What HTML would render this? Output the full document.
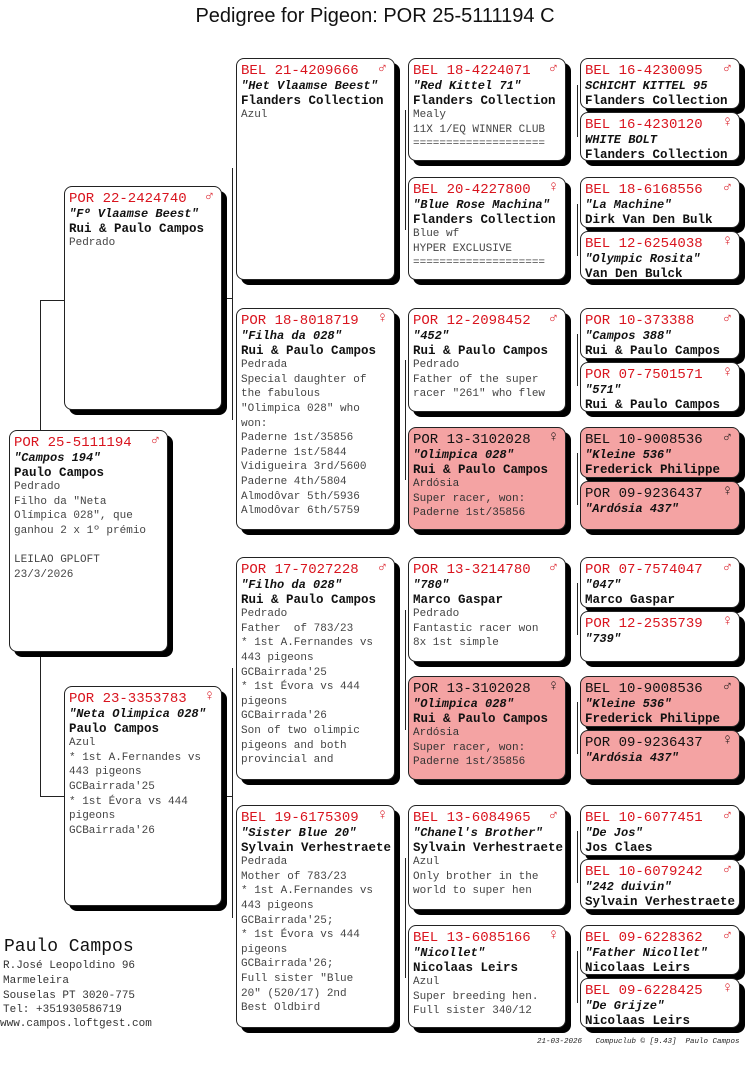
<!DOCTYPE html>
<html><head><meta charset="utf-8">
<style>
body{margin:0;width:750px;height:1077px;background:#fff;position:relative;overflow:hidden;font-family:"Liberation Mono","DejaVu Sans Mono",monospace;color:#111}
.t{position:absolute;left:0;width:750px;top:5px;text-align:center;font-family:"Liberation Sans",sans-serif;font-size:20px}
.b{position:absolute;border:1.5px solid #222;border-radius:8px;background:#fff;box-shadow:5px 5px 0 #000;padding:5px 4px 3px 4px;box-sizing:border-box;overflow:hidden;line-height:14.6px}
.p{background:#f4a3a3}
.id{color:#d9141e;font-size:14px;line-height:15px;white-space:nowrap}
.p .id{color:#111}
.g{position:absolute;right:7px;top:3px;color:#d9141e;font-size:15px;font-weight:bold}
.p .g{color:#111}
.n{font-weight:bold;font-style:italic;font-size:12px;white-space:nowrap}
.o{font-weight:bold;font-size:12.5px;white-space:nowrap}
.x{font-size:11px;color:#444;white-space:pre}
.p .x{color:#333}
.l{position:absolute;background:#222}
</style></head><body>
<div class="t">Pedigree for Pigeon: POR 25-5111194 C</div>

<div class="l" style="left:40px;top:300px;width:1px;height:496px"></div>
<div class="l" style="left:40px;top:300px;width:24px;height:1px"></div>
<div class="l" style="left:40px;top:796px;width:24px;height:1px"></div>
<div class="l" style="left:232px;top:168px;width:1px;height:252px"></div>
<div class="l" style="left:222px;top:298px;width:10px;height:1px"></div>
<div class="l" style="left:232px;top:668px;width:1px;height:250px"></div>
<div class="l" style="left:222px;top:796px;width:10px;height:1px"></div>
<div class="l" style="left:405px;top:110px;width:1px;height:120px"></div>
<div class="l" style="left:405px;top:360px;width:1px;height:120px"></div>
<div class="l" style="left:405px;top:610px;width:1px;height:120px"></div>
<div class="l" style="left:405px;top:858px;width:1px;height:120px"></div>
<div class="l" style="left:577px;top:85px;width:1px;height:52px"></div>
<div class="l" style="left:577px;top:204px;width:1px;height:52px"></div>
<div class="l" style="left:577px;top:334px;width:1px;height:52px"></div>
<div class="l" style="left:577px;top:453px;width:1px;height:52px"></div>
<div class="l" style="left:577px;top:583px;width:1px;height:52px"></div>
<div class="l" style="left:577px;top:702px;width:1px;height:52px"></div>
<div class="l" style="left:577px;top:831px;width:1px;height:52px"></div>
<div class="l" style="left:577px;top:951px;width:1px;height:52px"></div>

<div class="b" style="left:9px;top:430px;width:159px;height:222px"><div class="id">POR 25-5111194</div><span class="g">♂</span><div class="n">"Campos 194"</div><div class="o">Paulo Campos</div><div class="x">Pedrado
Filho da "Neta
Olímpica 028", que
ganhou 2 x 1º prémio

LEILAO GPLOFT
23/3/2026</div></div>

<div class="b" style="left:64px;top:186px;width:158px;height:224px"><div class="id">POR 22-2424740</div><span class="g">♂</span><div class="n">"Fº Vlaamse Beest"</div><div class="o">Rui &amp; Paulo Campos</div><div class="x">Pedrado</div></div>
<div class="b" style="left:64px;top:686px;width:158px;height:220px"><div class="id">POR 23-3353783</div><span class="g">♀</span><div class="n">"Neta Olimpica 028"</div><div class="o">Paulo Campos</div><div class="x">Azul
* 1st A.Fernandes vs
443 pigeons
GCBairrada'25
* 1st Évora vs 444
pigeons
GCBairrada'26</div></div>

<div class="b" style="left:236px;top:58px;width:159px;height:222px"><div class="id">BEL 21-4209666</div><span class="g">♂</span><div class="n">"Het Vlaamse Beest"</div><div class="o">Flanders Collection</div><div class="x">Azul</div></div>
<div class="b" style="left:236px;top:308px;width:159px;height:222px"><div class="id">POR 18-8018719</div><span class="g">♀</span><div class="n">"Filha da 028"</div><div class="o">Rui &amp; Paulo Campos</div><div class="x">Pedrada
Special daughter of
the fabulous
"Olimpica 028" who
won:
Paderne 1st/35856
Paderne 1st/5844
Vidigueira 3rd/5600
Paderne 4th/5804
Almodôvar 5th/5936
Almodôvar 6th/5759</div></div>
<div class="b" style="left:236px;top:557px;width:159px;height:223px"><div class="id">POR 17-7027228</div><span class="g">♂</span><div class="n">"Filho da 028"</div><div class="o">Rui &amp; Paulo Campos</div><div class="x">Pedrado
Father  of 783/23
* 1st A.Fernandes vs
443 pigeons
GCBairrada'25
* 1st Évora vs 444
pigeons
GCBairrada'26
Son of two olimpic
pigeons and both
provincial and</div></div>
<div class="b" style="left:236px;top:805px;width:159px;height:223px"><div class="id">BEL 19-6175309</div><span class="g">♀</span><div class="n">"Sister Blue 20"</div><div class="o">Sylvain Verhestraete</div><div class="x">Pedrada
Mother of 783/23
* 1st A.Fernandes vs
443 pigeons
GCBairrada'25;
* 1st Évora vs 444
pigeons
GCBairrada'26;
Full sister "Blue
20" (520/17) 2nd
Best Oldbird</div></div>

<div class="b" style="left:408px;top:58px;width:158px;height:103px"><div class="id">BEL 18-4224071</div><span class="g">♂</span><div class="n">"Red Kittel 71"</div><div class="o">Flanders Collection</div><div class="x">Mealy
11X 1/EQ WINNER CLUB
====================</div></div>
<div class="b" style="left:408px;top:177px;width:158px;height:103px"><div class="id">BEL 20-4227800</div><span class="g">♀</span><div class="n">"Blue Rose Machina"</div><div class="o">Flanders Collection</div><div class="x">Blue wf
HYPER EXCLUSIVE
====================</div></div>
<div class="b" style="left:408px;top:308px;width:158px;height:104px"><div class="id">POR 12-2098452</div><span class="g">♂</span><div class="n">"452"</div><div class="o">Rui &amp; Paulo Campos</div><div class="x">Pedrado
Father of the super
racer "261" who flew</div></div>
<div class="b p" style="left:408px;top:427px;width:158px;height:103px"><div class="id">POR 13-3102028</div><span class="g">♀</span><div class="n">"Olimpica 028"</div><div class="o">Rui &amp; Paulo Campos</div><div class="x">Ardósia
Super racer, won:
Paderne 1st/35856</div></div>
<div class="b" style="left:408px;top:557px;width:158px;height:105px"><div class="id">POR 13-3214780</div><span class="g">♂</span><div class="n">"780"</div><div class="o">Marco Gaspar</div><div class="x">Pedrado
Fantastic racer won
8x 1st simple</div></div>
<div class="b p" style="left:408px;top:676px;width:158px;height:104px"><div class="id">POR 13-3102028</div><span class="g">♀</span><div class="n">"Olimpica 028"</div><div class="o">Rui &amp; Paulo Campos</div><div class="x">Ardósia
Super racer, won:
Paderne 1st/35856</div></div>
<div class="b" style="left:408px;top:805px;width:158px;height:105px"><div class="id">BEL 13-6084965</div><span class="g">♂</span><div class="n">"Chanel's Brother"</div><div class="o">Sylvain Verhestraete</div><div class="x">Azul
Only brother in the
world to super hen</div></div>
<div class="b" style="left:408px;top:925px;width:158px;height:103px"><div class="id">BEL 13-6085166</div><span class="g">♀</span><div class="n">"Nicollet"</div><div class="o">Nicolaas Leirs</div><div class="x">Azul
Super breeding hen.
Full sister 340/12</div></div>

<div class="b" style="left:580px;top:58px;width:160px;height:51px"><div class="id">BEL 16-4230095</div><span class="g">♂</span><div class="n">SCHICHT KITTEL 95</div><div class="o">Flanders Collection</div></div>
<div class="b" style="left:580px;top:112px;width:160px;height:49px"><div class="id">BEL 16-4230120</div><span class="g">♀</span><div class="n">WHITE BOLT</div><div class="o">Flanders Collection</div></div>
<div class="b" style="left:580px;top:177px;width:160px;height:51px"><div class="id">BEL 18-6168556</div><span class="g">♂</span><div class="n">"La Machine"</div><div class="o">Dirk Van Den Bulk</div></div>
<div class="b" style="left:580px;top:231px;width:160px;height:49px"><div class="id">BEL 12-6254038</div><span class="g">♀</span><div class="n">"Olympic Rosita"</div><div class="o">Van Den Bulck</div></div>
<div class="b" style="left:580px;top:308px;width:160px;height:51px"><div class="id">POR 10-373388</div><span class="g">♂</span><div class="n">"Campos 388"</div><div class="o">Rui &amp; Paulo Campos</div></div>
<div class="b" style="left:580px;top:362px;width:160px;height:50px"><div class="id">POR 07-7501571</div><span class="g">♀</span><div class="n">"571"</div><div class="o">Rui &amp; Paulo Campos</div></div>
<div class="b p" style="left:580px;top:427px;width:160px;height:51px"><div class="id">BEL 10-9008536</div><span class="g">♂</span><div class="n">"Kleine 536"</div><div class="o">Frederick Philippe</div></div>
<div class="b p" style="left:580px;top:481px;width:160px;height:49px"><div class="id">POR 09-9236437</div><span class="g">♀</span><div class="n">"Ardósia 437"</div></div>
<div class="b" style="left:580px;top:557px;width:160px;height:51px"><div class="id">POR 07-7574047</div><span class="g">♂</span><div class="n">"047"</div><div class="o">Marco Gaspar</div></div>
<div class="b" style="left:580px;top:611px;width:160px;height:51px"><div class="id">POR 12-2535739</div><span class="g">♀</span><div class="n">"739"</div></div>
<div class="b p" style="left:580px;top:676px;width:160px;height:51px"><div class="id">BEL 10-9008536</div><span class="g">♂</span><div class="n">"Kleine 536"</div><div class="o">Frederick Philippe</div></div>
<div class="b p" style="left:580px;top:730px;width:160px;height:50px"><div class="id">POR 09-9236437</div><span class="g">♀</span><div class="n">"Ardósia 437"</div></div>
<div class="b" style="left:580px;top:805px;width:160px;height:51px"><div class="id">BEL 10-6077451</div><span class="g">♂</span><div class="n">"De Jos"</div><div class="o">Jos Claes</div></div>
<div class="b" style="left:580px;top:859px;width:160px;height:51px"><div class="id">BEL 10-6079242</div><span class="g">♂</span><div class="n">"242 duivin"</div><div class="o">Sylvain Verhestraete</div></div>
<div class="b" style="left:580px;top:925px;width:160px;height:50px"><div class="id">BEL 09-6228362</div><span class="g">♂</span><div class="n">"Father Nicollet"</div><div class="o">Nicolaas Leirs</div></div>
<div class="b" style="left:580px;top:978px;width:160px;height:50px"><div class="id">BEL 09-6228425</div><span class="g">♀</span><div class="n">"De Grijze"</div><div class="o">Nicolaas Leirs</div></div>

<div style="position:absolute;left:4px;top:937px;font-size:18px;line-height:20px">Paulo Campos</div>
<div class="x" style="position:absolute;left:3px;top:959px;line-height:14.8px;color:#333">R.José Leopoldino 96
Marmeleira
Souselas PT 3020-775
Tel: +351930586719</div>
<div class="x" style="position:absolute;left:0px;top:1018px;color:#333">www.campos.loftgest.com</div>
<div style="position:absolute;left:537px;top:1038px;font-size:7.5px;font-style:italic;white-space:pre;color:#222">21-03-2026   Compuclub © [9.43]  Paulo Campos</div>
</body></html>
